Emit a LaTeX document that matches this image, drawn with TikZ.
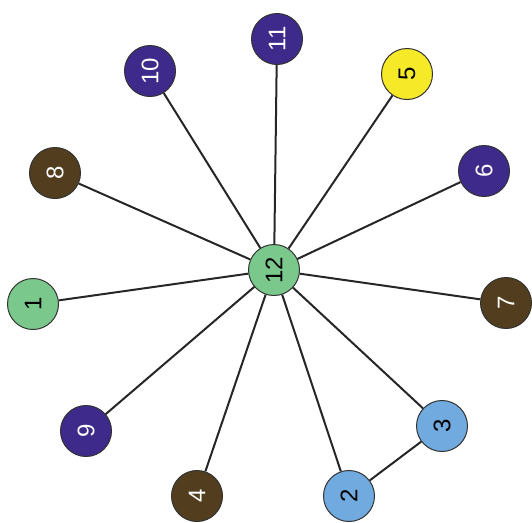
\documentclass[tikz,border=0pt]{standalone}
\usepackage{fontspec}
\setmainfont{Liberation Sans}
\definecolor{cgreen}{RGB}{122,200,140}
\definecolor{cbrown}{RGB}{82,62,30}
\definecolor{cpurple}{RGB}{62,42,138}
\definecolor{cyellow}{RGB}{246,234,40}
\definecolor{cblue}{RGB}{112,170,222}
\begin{document}
\begin{tikzpicture}[x=1pt,y=-1pt,
  vtx/.style={circle,draw=black!80,line width=1pt,minimum size=51pt,inner sep=0pt,
    font=\fontsize{24}{24}\selectfont,rotate=90},
  gv/.style={vtx,fill=cgreen,text=black},
  bv/.style={vtx,fill=cbrown,text=white},
  pv/.style={vtx,fill=cpurple,text=white},
  yv/.style={vtx,fill=cyellow,text=black},
  lv/.style={vtx,fill=cblue,text=black},
  edge/.style={line width=2pt,draw=black!85}]
\useasboundingbox (0,0) rectangle (532,522);
\node[gv] (n12) at (274,270) {12};
\node[gv] (n1) at (33,304) {1};
\node[bv] (n8) at (55,173) {8};
\node[pv] (n10) at (150,71) {10};
\node[pv] (n11) at (277,39) {11};
\node[yv] (n5) at (407,74) {5};
\node[pv] (n6) at (484,171) {6};
\node[bv] (n7) at (506,303) {7};
\node[lv] (n3) at (442,426) {3};
\node[lv] (n2) at (349,496) {2};
\node[bv] (n4) at (197,496) {4};
\node[pv] (n9) at (86,431) {9};
\foreach \t in {n1,n8,n10,n11,n5,n6,n7,n3,n2,n4,n9}
  \draw[edge] (n12) -- (\t);
\draw[edge] (n2) -- (n3);
\end{tikzpicture}
\end{document}
